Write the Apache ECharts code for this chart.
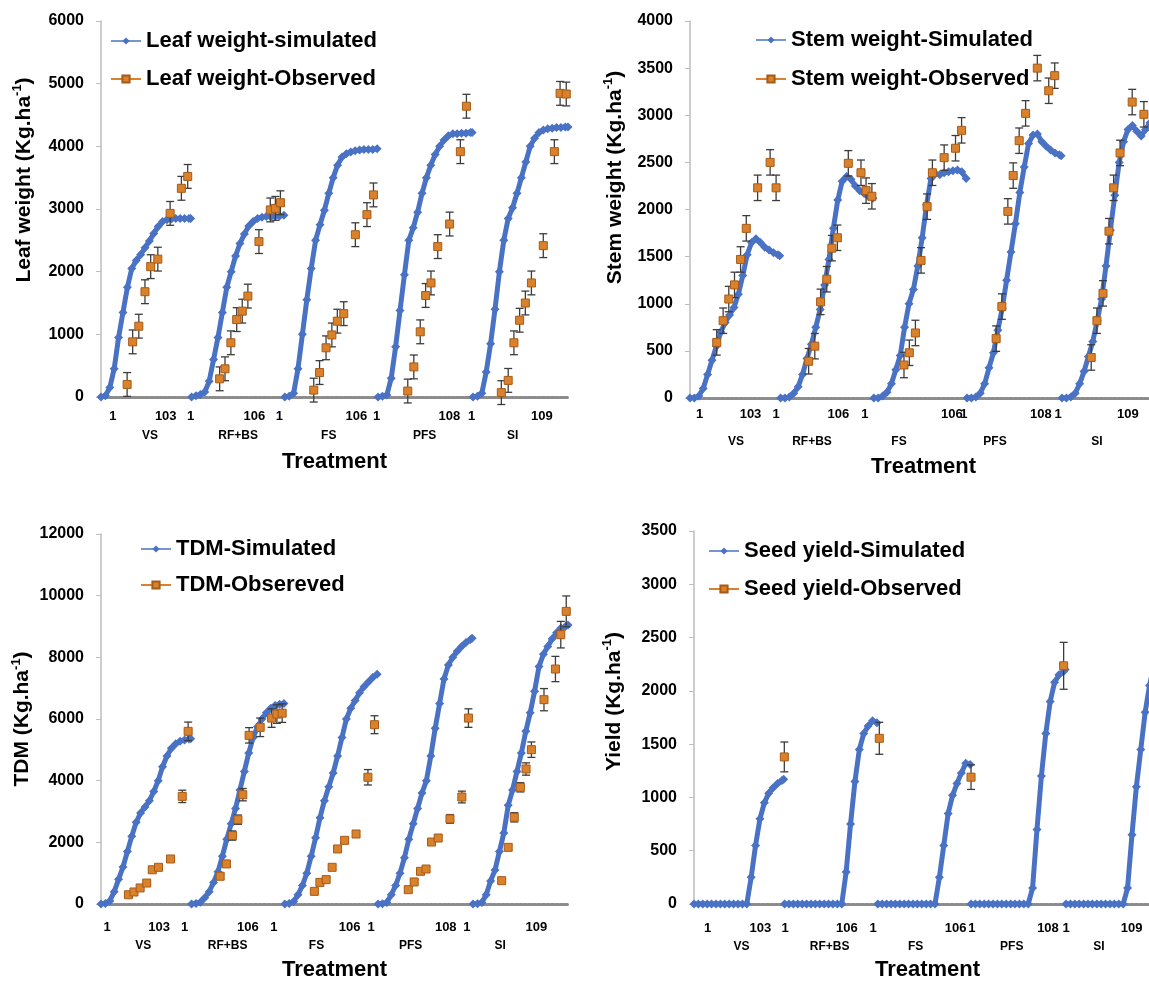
<!DOCTYPE html>
<html><head><meta charset="utf-8">
<script src="https://cdn.jsdelivr.net/npm/echarts@6/dist/echarts.min.js"></script>
<style>html,body{margin:0;padding:0;background:#fff}#c{width:1149px;height:981px}</style>
</head><body><div id="c"></div>
<script>
// ---------------- DATA ----------------
const treatments = ['VS', 'RF+BS', 'FS', 'PFS', 'SI'];
const segmentLengths = [103, 106, 106, 108, 109];   // days simulated per treatment
const dayTickLabels = ['1', '103', '1', '106', '1', '106', '1', '108', '1', '109'];
const sampleStep = 5;                                // simulated values read every 5 days (+ last day)

// Leaf weight simulated (kg/ha)
const leafSimVS  = [0, 20, 150, 450, 950, 1350, 1750, 2050, 2180, 2270, 2380, 2490, 2610, 2720, 2800, 2830, 2840, 2850, 2850, 2850, 2850, 2850];
const leafSimRF  = [0, 20, 40, 80, 250, 600, 950, 1350, 1750, 2000, 2250, 2450, 2600, 2730, 2800, 2850, 2870, 2880, 2880, 2885, 2890, 2900];
const leafSimFS  = [0, 10, 60, 450, 1000, 1550, 2050, 2500, 2750, 2980, 3250, 3500, 3700, 3830, 3880, 3910, 3930, 3940, 3950, 3950, 3950, 3960];
const leafSimPFS = [0, 10, 30, 300, 800, 1380, 1950, 2500, 2700, 2950, 3250, 3500, 3700, 3870, 4000, 4100, 4170, 4200, 4200, 4210, 4210, 4220, 4220];
const leafSimSI  = [0, 10, 60, 400, 850, 1400, 2000, 2500, 2850, 3020, 3250, 3500, 3750, 4000, 4130, 4220, 4260, 4280, 4290, 4300, 4300, 4310, 4310];
const leafObsX = [29.7, 36, 43, 50, 56.5, 64.6, 78.6, 91.4, 98.6, 134.9, 141, 147.7, 154.3, 160.6, 167, 179.6, 192.5, 198.3, 204, 241.9, 248.5, 255.9, 262.5, 268.7, 276, 289.2, 302.4, 309.8, 348.8, 355.7, 363, 369.1, 375.2, 382.9, 396.4, 408.6, 415.5, 455.2, 463, 469.5, 476, 482.5, 489.4, 502.9, 515.5, 522, 529];
const leafObsY = [200, 880, 1130, 1680, 2080, 2200, 2930, 3330, 3520, 290, 450, 865, 1235, 1370, 1610, 2480, 2985, 3010, 3100, 110, 390, 785, 990, 1210, 1330, 2590, 2910, 3225, 95, 480, 1040, 1620, 1820, 2400, 2760, 3915, 4640, 70, 265, 865, 1225, 1500, 1820, 2415, 3915, 4845, 4835];
const leafObsErr = [190, 190, 190, 190, 190, 190, 190, 190, 190, 190, 190, 190, 190, 190, 190, 190, 190, 190, 190, 190, 190, 190, 190, 190, 190, 190, 190, 190, 190, 190, 190, 190, 190, 190, 190, 190, 190, 190, 190, 190, 190, 190, 190, 190, 190, 190, 190];

// Stem weight simulated (kg/ha)
const stemSimVS  = [0, 0, 20, 100, 250, 400, 550, 700, 800, 880, 960, 1100, 1300, 1520, 1650, 1690, 1650, 1600, 1570, 1540, 1520, 1510];
const stemSimRF  = [0, 0, 10, 50, 120, 250, 420, 570, 750, 940, 1200, 1470, 1800, 2100, 2300, 2350, 2320, 2250, 2200, 2170, 2140, 2120];
const stemSimFS  = [0, 0, 20, 60, 150, 300, 450, 750, 1000, 1150, 1400, 1700, 2050, 2330, 2380, 2370, 2390, 2400, 2410, 2420, 2400, 2330];
const stemSimPFS = [0, 0, 10, 50, 150, 320, 480, 720, 950, 1250, 1550, 1850, 2180, 2450, 2700, 2790, 2800, 2720, 2670, 2630, 2600, 2580, 2570];
const stemSimSI  = [0, 0, 10, 50, 150, 280, 440, 600, 820, 1050, 1400, 1780, 2150, 2500, 2720, 2850, 2890, 2830, 2780, 2850, 2920, 2950, 2960];
const stemObsX = [30.4, 37.7, 44.1, 50.6, 57.5, 64, 76.9, 91.1, 97.9, 134.9, 141.9, 148.5, 155.5, 161.3, 167.6, 180, 194.4, 200.2, 206.8, 243.3, 249.4, 256.3, 262.7, 269.6, 275.6, 289, 301.9, 308.8, 348.1, 354.6, 361.4, 367.5, 374.3, 381.6, 394.9, 407.9, 414.7, 456.2, 462.7, 469.6, 476.4, 481.7, 489, 502.8, 516.1];
const stemObsY = [590, 820, 1050, 1200, 1470, 1800, 2230, 2500, 2230, 390, 550, 1020, 1260, 1590, 1700, 2490, 2390, 2200, 2140, 350, 480, 690, 1460, 2030, 2390, 2550, 2650, 2840, 630, 970, 1980, 2360, 2730, 3020, 3500, 3260, 3420, 430, 820, 1110, 1770, 2230, 2600, 3140, 3010];
const stemObsErr = [135, 135, 135, 135, 135, 135, 135, 135, 135, 135, 135, 135, 135, 135, 135, 135, 135, 135, 135, 135, 135, 135, 135, 135, 135, 135, 135, 135, 135, 135, 135, 135, 135, 135, 135, 135, 135, 135, 135, 135, 135, 135, 135, 135, 135];

// Total dry matter simulated (kg/ha)
const tdmSimVS  = [0, 20, 100, 400, 800, 1200, 1700, 2200, 2650, 2950, 3150, 3350, 3650, 4000, 4450, 4800, 5050, 5200, 5280, 5320, 5350, 5360];
const tdmSimRF  = [0, 20, 60, 200, 400, 700, 1050, 1550, 2100, 2600, 3100, 3700, 4300, 4900, 5400, 5750, 6000, 6200, 6350, 6440, 6480, 6500];
const tdmSimFS  = [0, 20, 80, 300, 600, 1000, 1550, 2150, 2800, 3350, 3800, 4250, 4800, 5400, 6000, 6350, 6600, 6850, 7050, 7200, 7350, 7450];
const tdmSimPFS = [0, 10, 50, 300, 600, 1000, 1500, 2100, 2600, 3100, 3600, 4000, 4800, 5700, 6500, 7300, 7750, 8000, 8200, 8350, 8480, 8580, 8620];
const tdmSimSI  = [0, 10, 50, 300, 750, 1100, 1700, 2300, 3200, 3700, 4300, 4900, 5600, 6200, 6900, 7700, 8100, 8350, 8600, 8800, 8950, 9000, 9050];
const tdmObsX = [31.2, 37.5, 44.5, 52, 58.3, 65.4, 79.1, 92.4, 99.1, 135.5, 142.6, 149.4, 155.7, 161.2, 168.4, 181, 194, 200, 206, 242.6, 248.9, 256, 262.8, 269, 277, 290, 303.5, 311, 349.4, 356.1, 363.3, 369.6, 375.8, 383.4, 396.8, 410.3, 417.8, 455.6, 463, 469.9, 476.8, 483.3, 489.4, 503.7, 516.7, 522.8, 529];
const tdmObsY = [300, 390, 520, 680, 1110, 1190, 1460, 3490, 5600, 900, 1300, 2220, 2735, 3546, 5470, 5730, 6030, 6160, 6190, 410, 700, 790, 1190, 1785, 2065, 2270, 4110, 5815, 465, 715, 1060, 1135, 2010, 2140, 2760, 3470, 6030, 757, 1838, 2811, 3784, 4378, 5005, 6627, 7621, 8735, 9491];
const tdmObsErr = [60, 60, 60, 70, 80, 80, 80, 200, 300, 80, 80, 150, 150, 200, 250, 300, 300, 300, 300, 60, 60, 60, 70, 80, 80, 100, 250, 290, 60, 60, 70, 70, 80, 80, 140, 190, 300, 60, 80, 150, 150, 200, 250, 360, 410, 430, 500];

// Seed yield simulated (kg/ha)
const yieldSimVS  = [0, 0, 0, 0, 0, 0, 0, 0, 0, 0, 0, 0, 0, 250, 550, 800, 950, 1040, 1090, 1130, 1160, 1170];
const yieldSimRF  = [0, 0, 0, 0, 0, 0, 0, 0, 0, 0, 0, 0, 0, 0, 300, 750, 1150, 1450, 1600, 1670, 1720, 1700];
const yieldSimFS  = [0, 0, 0, 0, 0, 0, 0, 0, 0, 0, 0, 0, 0, 0, 250, 550, 850, 1020, 1130, 1230, 1320, 1310];
const yieldSimPFS = [0, 0, 0, 0, 0, 0, 0, 0, 0, 0, 0, 0, 0, 0, 150, 700, 1200, 1600, 1900, 2080, 2150, 2180, 2200];
const yieldSimSI  = [0, 0, 0, 0, 0, 0, 0, 0, 0, 0, 0, 0, 0, 0, 150, 650, 1100, 1450, 1800, 2050, 2250, 2400, 2450];
const yieldObsX = [102.7, 210.7, 315, 420.3];
const yieldObsY = [1380, 1555, 1190, 2235];
const yieldObsErr = [140, 150, 115, 220];

// ---------------- LAYOUT / STYLE ----------------
const BLUE = '#4a72c4', ORANGE = '#d9822b', FONT = 'Liberation Sans';
const panels = [
  { sim: [leafSimVS, leafSimRF, leafSimFS, leafSimPFS, leafSimSI], obsX: leafObsX, obsY: leafObsY, obsErr: leafObsErr,
    simName: 'Leaf weight-simulated', obsName: 'Leaf weight-Observed', yName: 'Leaf weight (Kg.ha{s|-1})', yMax: 6000, yInt: 1000,
    grid: { left: 101, top: 21, width: 467, height: 376 }, yNameGap: 64, yShift: 58, xNameGap: 53, tickMargin: 13, nameMargin: 33,
    tickPos: [13.4, 73.6, 101.8, 174.5, 202.7, 290.3, 313.4, 396.2, 421.5, 501.4], namePos: [55.6, 156, 259, 368, 468],
    legend: { left: 105, top: 23, itemGap: 12 } },
  { sim: [stemSimVS, stemSimRF, stemSimFS, stemSimPFS, stemSimSI], obsX: stemObsX, obsY: stemObsY, obsErr: stemObsErr,
    simName: 'Stem weight-Simulated', obsName: 'Stem weight-Observed', yName: 'Stem weight (Kg.ha{s|-1})', yMax: 4000, yInt: 500,
    grid: { left: 690, top: 21, width: 467, height: 377 }, yNameGap: 62, yShift: 64, xNameGap: 57, tickMargin: 10, nameMargin: 38,
    tickPos: [11, 68.8, 97.8, 168.6, 198.8, 297.8, 311.5, 398.9, 418.7, 497.9], namePos: [52.3, 138.7, 237.6, 346.8, 462.8],
    legend: { left: 750, top: 22, itemGap: 13 } },
  { sim: [tdmSimVS, tdmSimRF, tdmSimFS, tdmSimPFS, tdmSimSI], obsX: tdmObsX, obsY: tdmObsY, obsErr: tdmObsErr,
    simName: 'TDM-Simulated', obsName: 'TDM-Obsereved', yName: 'TDM (Kg.ha{s|-1})', yMax: 12000, yInt: 2000,
    grid: { left: 101, top: 534, width: 467, height: 370 }, yNameGap: 64, yShift: 0, xNameGap: 54, tickMargin: 17, nameMargin: 36,
    tickPos: [7, 66, 95, 167, 196.6, 282.6, 307, 392, 416, 495], namePos: [48, 144, 245, 352, 454],
    legend: { left: 135, top: 531, itemGap: 10 } },
  { sim: [yieldSimVS, yieldSimRF, yieldSimFS, yieldSimPFS, yieldSimSI], obsX: yieldObsX, obsY: yieldObsY, obsErr: yieldObsErr,
    simName: 'Seed yield-Simulated', obsName: 'Seed yield-Observed', yName: 'Yield (Kg.ha{s|-1})', yMax: 3500, yInt: 500,
    grid: { left: 694, top: 531, width: 467, height: 373 }, yNameGap: 67, yShift: 32, xNameGap: 54, tickMargin: 18, nameMargin: 37,
    tickPos: [15.6, 75.4, 103.5, 173.7, 203.8, 297.4, 316, 402.5, 423.2, 497.5], namePos: [54, 154.2, 252, 361.3, 460.4],
    legend: { left: 703, top: 533, itemGap: 12 } }
];

const segStarts = [];
segmentLengths.forEach((L, i) => segStarts.push(i ? segStarts[i - 1] + segmentLengths[i - 1] : 0));
const X_MAX = segStarts[4] + segmentLengths[4] - 1;

function segmentPoints(vals, s) {
  const L = segmentLengths[s], days = [];
  for (let d = 1; d <= L; d += sampleStep) days.push(d);
  if (days[days.length - 1] !== L) days.push(L);
  return vals.map((v, i) => [segStarts[s] + days[i] - 1, v]);
}
function lookup(positions, texts) {
  return v => { const i = positions.findIndex(t => Math.abs(t - v) < 1e-6); return i >= 0 ? texts[i] : ''; };
}
function errRender(params, api) {
  const x = api.value(0), y = api.value(1), e = api.value(2);
  const hi = api.coord([x, y + e]), lo = api.coord([x, y - e]);
  const cap = 4, st = { stroke: '#3c3c3c', lineWidth: 1.3 };
  return { type: 'group', children: [
    { type: 'line', shape: { x1: hi[0], y1: hi[1], x2: lo[0], y2: lo[1] }, style: st },
    { type: 'line', shape: { x1: hi[0] - cap, y1: hi[1], x2: hi[0] + cap, y2: hi[1] }, style: st },
    { type: 'line', shape: { x1: lo[0] - cap, y1: lo[1], x2: lo[0] + cap, y2: lo[1] }, style: st }
  ] };
}

const option = { animation: false, backgroundColor: '#fff', textStyle: { fontFamily: FONT },
  grid: [], xAxis: [], yAxis: [], legend: [], series: [] };

panels.forEach((p, k) => {
  option.grid.push(Object.assign({ outerBoundsMode: 'none', containLabel: false }, p.grid));
  option.xAxis.push({
    type: 'value', gridIndex: k, min: 0, max: X_MAX, position: 'bottom',
    name: 'Treatment', nameLocation: 'middle', nameGap: p.xNameGap,
    nameTextStyle: { fontSize: 22, fontWeight: 'bold', color: '#000', lineHeight: 24, fontFamily: FONT },
    axisLine: { show: true, onZero: false, lineStyle: { color: '#8c8c8c', width: 3, type: [3, 1.5] } },
    axisTick: { show: false }, splitLine: { show: false },
    axisLabel: { customValues: p.tickPos, formatter: lookup(p.tickPos, dayTickLabels), fontSize: 13, fontWeight: 'bold',
      color: '#000', margin: p.tickMargin, fontFamily: FONT }
  });
  option.xAxis.push({
    type: 'value', gridIndex: k, min: 0, max: X_MAX, position: 'bottom',
    axisLine: { show: false, onZero: false }, axisTick: { show: false }, splitLine: { show: false },
    axisLabel: { customValues: p.namePos, formatter: lookup(p.namePos, treatments), fontSize: 12, fontWeight: 'bold',
      color: '#000', margin: p.nameMargin, fontFamily: FONT }
  });
  option.yAxis.push({
    type: 'value', gridIndex: k, min: 0, max: p.yMax, interval: p.yInt,
    name: p.yName, nameLocation: 'middle', nameGap: p.yNameGap,
    nameTextStyle: { fontSize: 21, fontWeight: 'bold', color: '#000', lineHeight: 26, fontFamily: FONT,
      padding: [0, 0, 0, p.yShift],
      rich: { s: { fontSize: 13, fontWeight: 'bold', color: '#000', lineHeight: 26, verticalAlign: 'top', fontFamily: FONT } } },
    axisLine: { show: true, lineStyle: { color: '#bdbdbd', width: 1.5 } },
    axisTick: { show: true, length: 5, lineStyle: { color: '#bdbdbd' } },
    splitLine: { show: false },
    axisLabel: { fontSize: 16, fontWeight: 'bold', color: '#000', margin: 17, fontFamily: FONT,
      formatter: v => String(v) }
  });
  option.legend.push({
    left: p.legend.left, top: p.legend.top, orient: 'vertical', itemGap: p.legend.itemGap,
    itemWidth: 30, itemHeight: 9, selectedMode: false,
    lineStyle: { width: 1.5 },
    textStyle: { fontSize: 22, fontWeight: 'bold', color: '#000', lineHeight: 26, fontFamily: FONT },
    data: [ { name: p.simName },
            { name: p.obsName, lineStyle: { opacity: 1, color: ORANGE, width: 2 } } ]
  });
  p.sim.forEach((vals, s) => {
    option.series.push({ type: 'line', name: p.simName, xAxisIndex: 2 * k, yAxisIndex: k,
      data: segmentPoints(vals, s), symbol: 'diamond', symbolSize: 9,
      lineStyle: { color: BLUE, width: 5 }, itemStyle: { color: BLUE }, z: 2, silent: true });
  });
  option.series.push({ type: 'custom', name: p.obsName + ' error', xAxisIndex: 2 * k, yAxisIndex: k,
    data: p.obsX.map((x, i) => [x, p.obsY[i], p.obsErr[i]]), renderItem: errRender,
    encode: { x: 0, y: 1 }, z: 3, silent: true });
  option.series.push({ type: 'line', name: p.obsName, xAxisIndex: 2 * k, yAxisIndex: k,
    data: p.obsX.map((x, i) => [x, p.obsY[i]]), symbol: 'rect', symbolSize: 8,
    lineStyle: { opacity: 0 }, itemStyle: { color: ORANGE, borderColor: '#a65a17', borderWidth: 1 }, z: 4, silent: true });
});

const chart = echarts.init(document.getElementById('c'), null, { renderer: 'canvas', width: 1149, height: 981 });
chart.setOption(option);
</script>
</body></html>
